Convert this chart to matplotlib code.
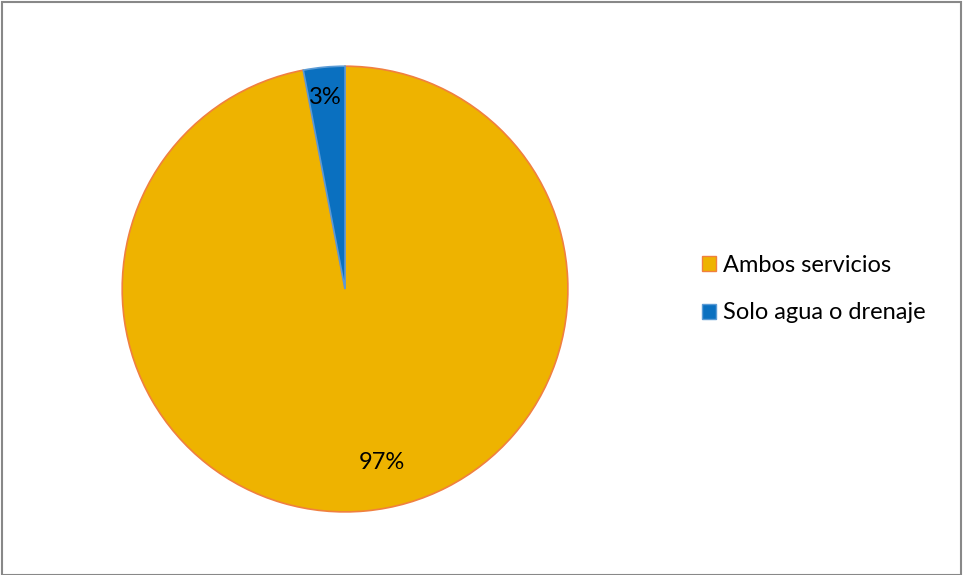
import matplotlib
matplotlib.use("Agg")
import matplotlib.pyplot as plt
import numpy as np
from matplotlib.patches import Rectangle

categories = ["Ambos servicios", "Solo agua o drenaje"]
values = [97, 3]
colors = ["#EEB300", "#0A70C0"]
edges = ["#F08040", "#5B9BD5"]

plt.rcParams['font.family'] = ['Lato', 'DejaVu Sans']

fig = plt.figure(figsize=(9.63, 5.75), dpi=100)
ax = fig.add_axes([0.1257, 0.1078, 0.4652, 0.779])
wedges, texts, autotexts = ax.pie(values, colors=colors, startangle=90, counterclock=False,
                                  autopct='%1.0f%%', pctdistance=0.8,
                                  wedgeprops=dict(linewidth=1.2),
                                  textprops=dict(fontsize=17, color='black'))
for w, e in zip(wedges, edges):
    w.set_edgecolor(e)
ax.set_xlim(-1.005, 1.005)
ax.set_ylim(-1.005, 1.005)
ax.set_aspect('equal')
# label placement similar to the reference
autotexts[0].set_position((0.165, -0.78))
autotexts[1].set_position((-0.09, 0.86))

handles = [Rectangle((0, 0), 1, 1, facecolor=c, edgecolor=e, linewidth=1) for c, e in zip(colors, edges)]
fig.legend(handles, categories, loc='center left', bbox_to_anchor=(0.719, 0.497),
           frameon=False, fontsize=17, handlelength=0.6, handleheight=0.6,
           handletextpad=0.3, labelspacing=1.12, borderaxespad=0)

fig.add_artist(Rectangle((0.002, 0.0), 0.996, 0.997, transform=fig.transFigure,
                         fill=False, edgecolor='#888888', linewidth=1.5))
fig.savefig("out.png", dpi=100)
